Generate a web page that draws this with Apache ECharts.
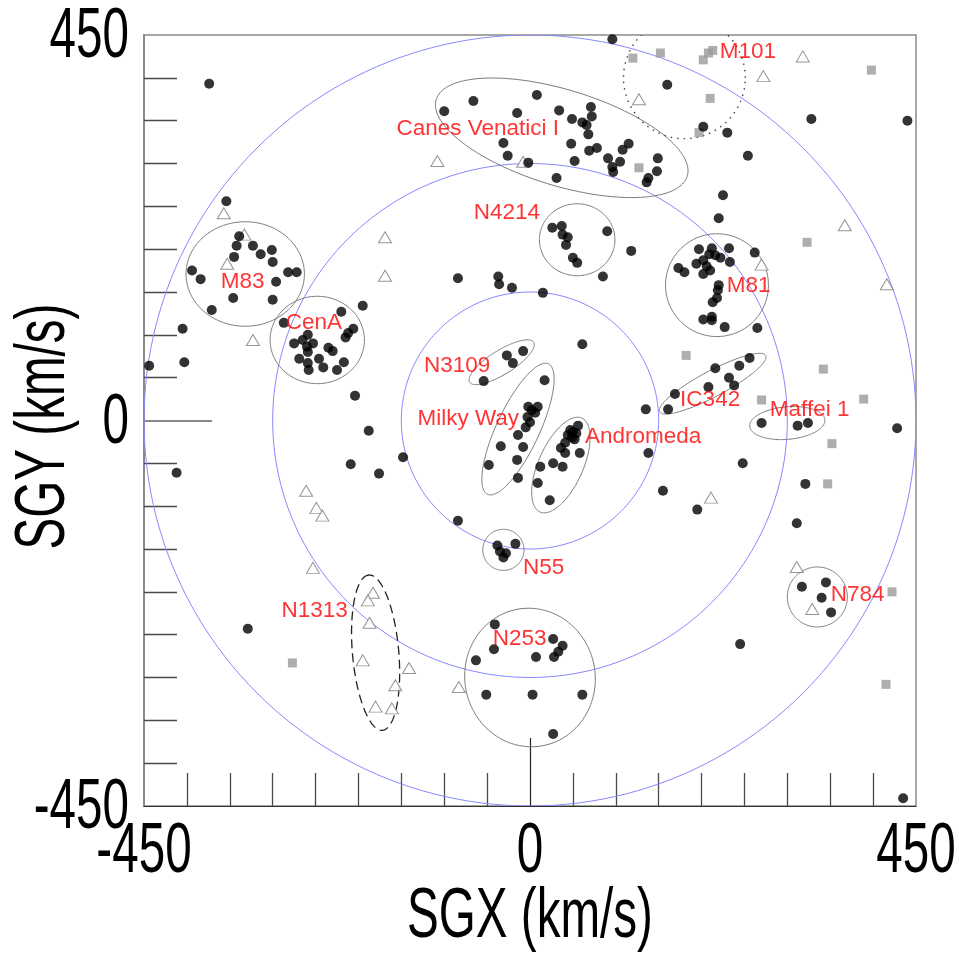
<!DOCTYPE html>
<html>
<head>
<meta charset="utf-8">
<script src="https://cdn.jsdelivr.net/npm/echarts@6/dist/echarts.min.js"></script>
<style>
  html, body { margin: 0; padding: 0; background: #fff; }
  #chart { width: 959px; height: 964px; }
</style>
</head>
<body>
<div id="chart"></div>
<script>
// Axis range and labelled ticks (km/s)
const axisMin = -450;
const axisMax = 450;
const tickLabels = [-450, 0, 450];
const minorTickStep = 50;
const xTitle = 'SGX (km/s)';
const yTitle = 'SGY (km/s)';

// Concentric velocity shells around the Local Group (km/s)
const shellRadii = [150, 300, 450];

// Galaxies with measured distances [SGX, SGY]
const galaxies = [
  [-374, 393], [-354, 256],
  [-339, 215], [-342, 204], [-345, 191], [-323, 204], [-314, 194], [-301, 199], [-300, 185],
  [-282, 173], [-272, 173], [-296, 162], [-394, 175], [-384, 165], [-346, 143], [-300, 141], [-371, 129],
  [-405, 107], [-403, 68], [-444, 64], [-412, -61], [-195, 134], [-287, 114],
  [-220, 127], [-212, 102], [-206, 107], [-215, 97], [-275, 90], [-265, 94], [-259, 100], [-253, 90],
  [-260, 86], [-259, 80], [-269, 72], [-259, 67], [-258, 59], [-246, 72], [-241, 62], [-235, 85],
  [-230, 81], [-225, 59], [-217, 68],
  [-204, 29], [-188, -12], [-209, -51], [-176, -62], [-148, -43], [-329, -243],
  [-100, 361], [-66, 373], [8, 380], [-15, 359], [34, 362], [71, 366], [72, 355], [61, 348],
  [49, 352], [66, 345], [68, 334], [-31, 324], [-26, 309], [-2, 301], [48, 323], [52, 303],
  [69, 315], [78, 318], [91, 306], [96, 296], [97, 290], [105, 302], [108, 316], [115, 323],
  [138, 283], [136, 278], [149, 306], [148, 291], [31, 283],
  [96, 445], [160, 392], [202, 343], [230, 336], [254, 309], [225, 263], [220, 236], [328, 352], [440, 350],
  [26, 225], [37, 227], [38, 217], [44, 214], [42, 205], [50, 190], [55, 184], [90, 221], [118, 198],
  [-84, 166], [-37, 168], [-36, 159], [-21, 155], [15, 149], [85, 168],
  [197, 200], [212, 201], [209, 194], [216, 193], [232, 201], [262, 196], [202, 187], [194, 183],
  [206, 180], [202, 171], [173, 178], [180, 173], [233, 185], [220, 158], [219, 152], [213, 138],
  [218, 143], [202, 118], [212, 121], [212, 117], [227, 109], [265, 108], [222, 190], [210, 175],
  [256, 73], [244, 64], [216, 61], [232, 50], [238, 41], [208, 39], [169, 31], [161, 13],
  [270, -3], [312, -6], [324, -3],
  [428, -9], [248, -50], [321, -74], [155, -82], [195, -104], [311, -120], [245, -261], [435, -441],
  [317, -194], [345, -189], [340, -207], [351, -224],
  [61, 89], [135, 13], [138, -38], [-84, -117],
  [-8, 81], [-27, 76], [-20, 67], [-54, 46],
  [17, 47], [-2, 16], [2, 12], [9, 16], [-3, 4], [0, -2], [-5, -8], [6, 9], [-14, -17], [-8, -31],
  [-34, -30], [-15, -46], [-48, -52], [-14, -67],
  [56, -6], [50, -13], [44, -17], [49, -20], [52, -22], [41, -26], [36, -32], [41, -38], [58, -38],
  [27, -50], [38, -54], [12, -54], [9, -73], [23, -93], [47, -11], [54, -15],
  [-38, -146], [-35, -153], [-31, -160], [-28, -155], [-17, -144],
  [-41, -238], [-42, -267], [-63, -280], [27, -255], [38, -263], [33, -270], [28, -276], [7, -276],
  [-51, -320], [3, -320], [61, -320], [27, -366]
];

// Dwarfs without accurate distances [SGX, SGY]
const dwarfs = [
  [-357, 242], [-333, 217], [-353, 183], [-169, 214], [-169, 169], [-323, 94], [-108, 303], [-8, 302],
  [-261, -82], [-249, -102], [-242, -111], [-253, -172],
  [-183, -201], [-189, -210], [-187, -236], [-195, -280], [-157, -309], [-180, -334], [-161, -336],
  [-141, -289], [-83, -311],
  [318, 425], [272, 402], [127, 375], [367, 228], [270, 182], [416, 159], [211, -90], [311, -171], [329, -220]
];

// Objects with velocities only [SGX, SGY]
const velocityOnly = [
  [120, 423], [152, 429], [202, 421], [208, 429], [213, 432], [210, 376], [197, 336], [127, 295],
  [398, 409], [323, 208], [182, 76], [342, 60], [270, 24], [389, 25], [352, -27], [347, -74],
  [422, -200], [415, -308], [-277, -283]
];

// Group outlines: centre, semi-axes (km/s) and tilt (degrees)
const groupNames = ['Canes Venatici I', 'N4214', 'M101', 'M81', 'M83', 'CenA', 'N3109', 'Milky Way',
  'Andromeda', 'N55', 'N253', 'N784', 'IC342', 'Maffei 1', 'N1313'];
const groupCx = [37, 55, 180, 218, -332, -248, -33, -14, 36, -31, 0, 335, 213, 300, -180];
const groupCy = [330, 211, 400, 158, 171, 94, 68, -10, -52, -151, -300, -206, 43, -3, -271];
const groupA = [153, 44, 71, 60, 69, 55, 44, 84, 60, 24, 81, 35, 70, 44, 91];
const groupB = [56, 42, 71, 60, 61, 51, 14, 25, 26, 24, 76, 35, 15, 19, 27];
const groupTilt = [-17, 0, 0, 0, 0, 0, 32, 65, 66, 0, 100, 0, 28, 5, 95];

// Label anchor points for the groups
const labelNames = ['M101', 'Canes Venatici I', 'N4214', 'M83', 'M81', 'CenA', 'N3109', 'Milky Way',
  'Andromeda', 'IC342', 'Maffei 1', 'N55', 'N784', 'N1313', 'N253'];
const labelX = [254, -61, -27, -335, 255, -252, -85, -72, 132, 210, 326, 16, 382, -251, -12];
const labelY = [430, 340, 242, 162, 157, 114, 64, 2, -19, 24, 12, -172, -203, -222, -255];

const outlineStyles = {
  'M101': { stroke: '#444', lineWidth: 1.4, lineDash: [1.5, 5] },
  'N1313': { stroke: '#222', lineWidth: 1.3, lineDash: [9, 5] }
};
const defaultOutline = { stroke: '#7a7a7a', lineWidth: 1, lineDash: null };

// short ticks every 50 km/s, long tick at zero
const shortTicks = [];
for (let v = axisMin + minorTickStep; v < axisMax; v += minorTickStep) {
  if (v !== 0) shortTicks.push(v);
}

function ellipsePoints(api, cx, cy, a, b, tiltDeg) {
  const phi = tiltDeg * Math.PI / 180;
  const pts = [];
  const n = 200;
  for (let k = 0; k < n; k++) {
    const t = 2 * Math.PI * k / n;
    const x = cx + a * Math.cos(t) * Math.cos(phi) - b * Math.sin(t) * Math.sin(phi);
    const y = cy + a * Math.cos(t) * Math.sin(phi) + b * Math.sin(t) * Math.cos(phi);
    pts.push(api.coord([x, y]));
  }
  return pts;
}

function clipRect(params) {
  const cs = params.coordSys;
  return { type: 'rect', shape: { x: cs.x, y: cs.y, width: cs.width, height: cs.height } };
}

const tickColor = '#4a4a4a';

function makeAxis(extra) {
  return Object.assign({
    type: 'value',
    min: axisMin,
    max: axisMax,
    interval: minorTickStep,
    splitLine: { show: false },
    axisLabel: { show: false }
  }, extra);
}

const chart = echarts.init(document.getElementById('chart'), null, { renderer: 'canvas' });

chart.setOption({
  animation: false,
  backgroundColor: '#fff',
  grid: {
    left: 144, right: 43, top: 35, bottom: 158,
    outerBoundsMode: 'none',
    containLabel: false,
    show: true, borderColor: '#8a8a8a', borderWidth: 1.5, backgroundColor: '#fff'
  },
  xAxis: [
    makeAxis({
      position: 'bottom',
      axisLine: { show: true, onZero: false, lineStyle: { color: '#333', width: 1 } },
      axisTick: { show: true, inside: true, length: 33, customValues: shortTicks, lineStyle: { color: tickColor, width: 1.3 } }
    }),
    makeAxis({
      position: 'bottom',
      axisLine: { show: false, onZero: false },
      axisTick: { show: true, inside: true, length: 68, customValues: [0], lineStyle: { color: '#222', width: 1.2 } }
    })
  ],
  yAxis: [
    makeAxis({
      position: 'left',
      axisLine: { show: true, onZero: false, lineStyle: { color: '#8a8a8a', width: 2 } },
      axisTick: { show: true, inside: true, length: 33, customValues: shortTicks, lineStyle: { color: tickColor, width: 1.3 } }
    }),
    makeAxis({
      position: 'left',
      axisLine: { show: false, onZero: false },
      axisTick: { show: true, inside: true, length: 68, customValues: [0], lineStyle: { color: '#888', width: 2 } }
    })
  ],
  series: [
    {
      // velocity shells
      type: 'custom',
      z: 1,
      silent: true,
      data: shellRadii.map(r => [0, 0, r]),
      encode: { x: 0, y: 1 },
      renderItem: function (params, api) {
        const r = api.value(2);
        return {
          type: 'group',
          clipPath: clipRect(params),
          children: [{
            type: 'polygon',
            shape: { points: ellipsePoints(api, api.value(0), api.value(1), r, r, 0) },
            style: { fill: 'none', stroke: '#8888ff', lineWidth: 1 }
          }]
        };
      }
    },
    {
      // group outlines
      type: 'custom',
      z: 2,
      silent: true,
      data: groupNames.map((n, i) => [groupCx[i], groupCy[i], groupA[i], groupB[i], groupTilt[i], i]),
      encode: { x: 0, y: 1 },
      renderItem: function (params, api) {
        const idx = api.value(5);
        const st = outlineStyles[groupNames[idx]] || defaultOutline;
        return {
          type: 'group',
          clipPath: clipRect(params),
          children: [{
            type: 'polygon',
            shape: { points: ellipsePoints(api, api.value(0), api.value(1), api.value(2), api.value(3), api.value(4)) },
            style: { fill: 'none', stroke: st.stroke, lineWidth: st.lineWidth, lineDash: st.lineDash }
          }]
        };
      }
    },
    {
      type: 'scatter',
      z: 3,
      symbol: 'rect',
      symbolSize: 9,
      itemStyle: { color: '#9a9a9a' },
      data: velocityOnly
    },
    {
      type: 'scatter',
      z: 4,
      symbol: 'triangle',
      symbolSize: [13, 11],
      itemStyle: { color: '#fff', borderColor: '#7a7a7a', borderWidth: 1 },
      data: dwarfs
    },
    {
      type: 'scatter',
      z: 5,
      symbol: 'circle',
      symbolSize: 10,
      itemStyle: { color: '#000' },
      data: galaxies
    },
    {
      type: 'scatter',
      z: 6,
      symbol: 'circle',
      symbolSize: 1,
      itemStyle: { color: 'rgba(0,0,0,0)' },
      silent: true,
      label: {
        show: true,
        position: 'inside',
        formatter: '{b}',
        color: '#ff0000',
        fontFamily: "'Liberation Sans', Arial, sans-serif",
        fontSize: 22.5
      },
      data: labelNames.map((n, i) => ({ name: n, value: [labelX[i], labelY[i]] }))
    }
  ]
});

// Axis numbers and titles in a condensed face, placed through the grid's own scale
const axisFont = "70px 'Liberation Sans', Arial, sans-serif";
const squeeze = 0.68;

function axisText(text, x, y, align, rotation) {
  return {
    type: 'text',
    x: x, y: y,
    rotation: rotation || 0,
    scaleX: squeeze,
    silent: true,
    z: 10,
    style: {
      text: text, font: axisFont, fill: '#000',
      align: align, textAlign: align,
      verticalAlign: 'middle', textVerticalAlign: 'middle'
    }
  };
}

const texts = [];
tickLabels.forEach(function (v) {
  const px = chart.convertToPixel({ gridIndex: 0 }, [v, axisMin]);
  texts.push(axisText(String(v), px[0], px[1] + 47, 'center'));
  const py = chart.convertToPixel({ gridIndex: 0 }, [axisMin, v]);
  texts.push(axisText(String(v), py[0] - 15, py[1] + 3, 'right'));
});
const midBottom = chart.convertToPixel({ gridIndex: 0 }, [0, axisMin]);
texts.push(axisText(xTitle, midBottom[0], midBottom[1] + 112, 'center'));
const midLeft = chart.convertToPixel({ gridIndex: 0 }, [axisMin, 0]);
texts.push(axisText(yTitle, midLeft[0] - 99, midLeft[1] + 6, 'center', Math.PI / 2));

chart.setOption({ graphic: { elements: texts } });
</script>
</body>
</html>
